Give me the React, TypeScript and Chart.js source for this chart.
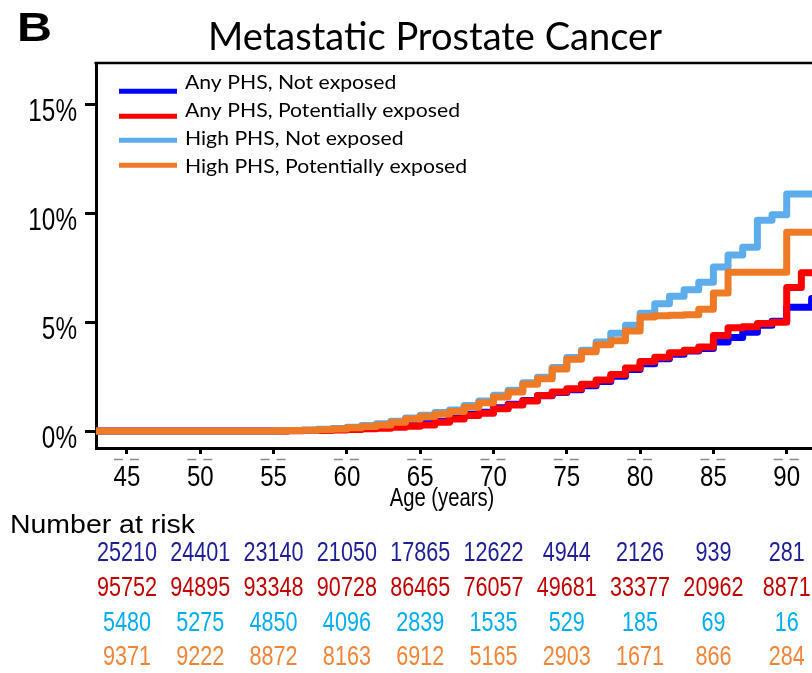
import React, { useEffect, useRef } from 'react';
import { Chart, registerables } from 'chart.js';

Chart.register(...registerables);

// ---------- data ----------
const ages = [
  43, 44, 45, 46, 47, 48, 49, 50, 51, 52, 53, 54, 55, 56, 57, 58, 59, 60, 61, 62, 63, 64, 65,
  66, 67, 68, 69, 70, 71, 72, 73, 74, 75, 76, 77, 78, 79, 80, 81, 82, 83, 84, 85, 86, 87, 88,
  89, 90, 91, 91.7, 95,
];

const anyNotExposed = [
  0, 0, 0, 0, 0, 0, 0, 0, 0, 0, 0, 0, 0.01, 0.02, 0.03, 0.05, 0.07, 0.1, 0.13, 0.17, 0.22, 0.27, 0.33,
  0.45, 0.6, 0.76, 0.86, 1.07, 1.23, 1.4, 1.62, 1.77, 1.9, 2.08, 2.28, 2.52, 2.83, 3.1, 3.33, 3.53, 3.68, 3.8, 4.1, 4.3, 4.55, 4.87,
  5.05, 5.7, 5.7, 6.1, 6.1,
];

const anyExposed = [
  0, 0, 0, 0, 0, 0, 0, 0, 0, 0, 0, 0, 0, 0.01, 0.02, 0.03, 0.05, 0.07, 0.1, 0.13, 0.17, 0.22, 0.28,
  0.4, 0.55, 0.72, 0.82, 1.03, 1.2, 1.38, 1.63, 1.8, 1.95, 2.15, 2.35, 2.6, 2.9, 3.2, 3.4, 3.6, 3.72, 3.87, 4.4, 4.75, 4.8, 4.95,
  5.0, 6.6, 7.28, 7.28, 7.28,
];

const highNotExposed = [
  0, 0, 0, 0, 0, 0, 0, 0, 0, 0, 0, 0, 0.02, 0.03, 0.05, 0.08, 0.12, 0.18, 0.25, 0.33, 0.45, 0.6, 0.73,
  0.85, 0.97, 1.17, 1.38, 1.65, 1.88, 2.22, 2.48, 2.92, 3.38, 3.72, 4.1, 4.5, 4.87, 5.42, 5.85, 6.2, 6.5, 6.85, 7.55, 8.1, 8.45, 9.7,
  9.95, 10.9, 10.9, 10.9, 10.9,
];

const highExposed = [
  0, 0, 0, 0, 0, 0, 0, 0, 0, 0, 0, 0, 0.01, 0.02, 0.04, 0.06, 0.09, 0.15, 0.21, 0.28, 0.4, 0.55, 0.67,
  0.78, 0.9, 1.1, 1.3, 1.57, 1.8, 2.15, 2.4, 2.85, 3.3, 3.65, 3.97, 4.15, 4.6, 5.25, 5.3, 5.33, 5.35, 5.6, 6.35, 7.3, 7.3, 7.3,
  7.3, 9.15, 9.15, 9.15, 9.15,
];

const seriesLabels = [
  'Any PHS, Not exposed',
  'Any PHS, Potentially exposed',
  'High PHS, Not exposed',
  'High PHS, Potentially exposed',
];
const seriesColors = ['#0000FF', '#FF0000', '#5DADEC', '#EE7A26'];

const xTicks = [45, 50, 55, 60, 65, 70, 75, 80, 85, 90];
const yTicks = [0, 5, 10, 15];

const riskAges = [45, 50, 55, 60, 65, 70, 75, 80, 85, 90];
const riskAnyNotExposed = [25210, 24401, 23140, 21050, 17865, 12622, 4944, 2126, 939, 281];
const riskAnyExposed = [95752, 94895, 93348, 90728, 86465, 76057, 49681, 33377, 20962, 8871];
const riskHighNotExposed = [5480, 5275, 4850, 4096, 2839, 1535, 529, 185, 69, 16];
const riskHighExposed = [9371, 9222, 8872, 8163, 6912, 5165, 2903, 1671, 866, 284];
const riskColors = ['#1E1E96', '#C00000', '#00AEEF', '#F0853A'];

const titleText = 'Metastatic Prostate Cancer';
const panelLetter = 'B';
const xTitle = 'Age (years)';
const riskTitle = 'Number at risk';

// ---------- styling ----------
const ARIAL = '"Liberation Sans", Arial, sans-serif';
const CAL = 'Lato, "Open Sans", sans-serif';
const NARROW_SCALE = 0.8;

const CANVAS_W = 866;
const CANVAS_H = 673;

function drawScaled(
  ctx: CanvasRenderingContext2D,
  text: string,
  x: number,
  y: number,
  font: string,
  color: string,
  sx: number,
  align: CanvasTextAlign = 'left'
) {
  ctx.save();
  ctx.font = font;
  ctx.fillStyle = color;
  ctx.textBaseline = 'alphabetic';
  ctx.textAlign = align;
  ctx.translate(x, y);
  ctx.scale(sx, 1);
  ctx.fillText(text, 0, 0);
  ctx.restore();
}

function widthOf(ctx: CanvasRenderingContext2D, text: string, font: string) {
  ctx.save();
  ctx.font = font;
  const w = ctx.measureText(text).width;
  ctx.restore();
  return w;
}

const overlayPlugin = {
  id: 'overlay',
  afterDraw(chart: any) {
    const ctx: CanvasRenderingContext2D = chart.ctx;
    const area = chart.chartArea;
    const xs = chart.scales.x;
    const ys = chart.scales.y;

    // top frame line
    ctx.save();
    ctx.strokeStyle = '#000';
    ctx.lineWidth = 2.5;
    ctx.beginPath();
    ctx.moveTo(area.left - 1.5, area.top);
    ctx.lineTo(area.right, area.top);
    ctx.stroke();
    ctx.restore();

    // panel letter and title
    const bFont = `bold 40px ${ARIAL}`;
    drawScaled(ctx, panelLetter, 17, 41, bFont, '#000', 35 / widthOf(ctx, panelLetter, bFont));
    const tFont = `39px ${CAL}`;
    drawScaled(ctx, titleText, 208, 50, tFont, '#000', 454 / widthOf(ctx, titleText, tFont));

    // legend
    const lineYs = [91.3, 116.3, 140.3, 165.3];
    const textYs = [89, 117.3, 145, 173.3];
    const lFont = `20px ${CAL}`;
    const legendScale = 275 / widthOf(ctx, seriesLabels[1], lFont);
    seriesLabels.forEach((lab, i) => {
      ctx.save();
      ctx.strokeStyle = seriesColors[i];
      ctx.lineWidth = 5;
      ctx.beginPath();
      ctx.moveTo(119, lineYs[i]);
      ctx.lineTo(177, lineYs[i]);
      ctx.stroke();
      ctx.restore();
      drawScaled(ctx, lab, 185, textYs[i], lFont, '#000', legendScale);
    });

    // y tick labels
    const yFont = `32px ${ARIAL}`;
    yTicks.forEach((t) => {
      const py = ys.getPixelForValue(t);
      drawScaled(ctx, `${t}%`, 77, py + 16.5, yFont, '#000', 0.76, 'right');
    });

    // x tick labels
    const xFont = `29px ${ARIAL}`;
    xTicks.forEach((t) => {
      const c = xs.getPixelForValue(t);
      drawScaled(ctx, String(t), c, 486, xFont, '#000', 0.83, 'center');
    });

    // ghost marks under the x axis
    ctx.save();
    ctx.strokeStyle = '#8a8a8a';
    ctx.lineWidth = 1.5;
    xTicks.forEach((t) => {
      const c = xs.getPixelForValue(t);
      ctx.beginPath();
      ctx.moveTo(c - 13, 459.5);
      ctx.lineTo(c - 4, 459.5);
      ctx.moveTo(c + 3, 459.5);
      ctx.lineTo(c + 12, 459.5);
      ctx.stroke();
    });
    ctx.restore();

    // x axis title
    drawScaled(ctx, xTitle, 442, 506, `25px ${ARIAL}`, '#000', 0.81, 'center');

    // number at risk
    const rtFont = `26px ${ARIAL}`;
    drawScaled(ctx, riskTitle, 10, 533, rtFont, '#000', 185 / widthOf(ctx, riskTitle, rtFont));
    const rows = [riskAnyNotExposed, riskAnyExposed, riskHighNotExposed, riskHighExposed];
    const rowYs = [561, 596, 631, 665];
    rows.forEach((row, r) => {
      row.forEach((v, i) => {
        const cx = xs.getPixelForValue(riskAges[i]);
        drawScaled(ctx, String(v), cx, rowYs[r], `27px ${ARIAL}`, riskColors[r], NARROW_SCALE, 'center');
      });
    });
  },
};

export default function App() {
  const ref = useRef<HTMLCanvasElement | null>(null);

  useEffect(() => {
    if (!ref.current) return;
    const makePts = (vals: number[]) => ages.map((a, i) => ({ x: a, y: vals[i] }));
    const all = [anyNotExposed, anyExposed, highNotExposed, highExposed];
    const chart = new Chart(ref.current, {
      type: 'line',
      data: {
        datasets: all.map((vals, i) => ({
          label: seriesLabels[i],
          data: makePts(vals),
          borderColor: seriesColors[i],
          backgroundColor: seriesColors[i],
          borderWidth: 7,
          stepped: true,
          pointRadius: 0,
          fill: false,
          borderCapStyle: 'round',
          borderJoinStyle: 'round',
          order: 4 - i,
        })),
      },
      options: {
        responsive: false,
        animation: false,
        devicePixelRatio: 1,
        layout: { padding: { top: 63, left: 0, right: 6, bottom: 0 } },
        plugins: {
          legend: { display: false },
          tooltip: { enabled: false },
          title: { display: false },
        },
        scales: {
          x: {
            type: 'linear',
            min: 42.886,
            max: 95,
            afterBuildTicks: (s: any) => {
              s.ticks = xTicks.map((v) => ({ value: v }));
            },
            afterFit: (s: any) => {
              s.height = CANVAS_H - 448;
            },
            border: { display: true, color: '#000', width: 3 },
            grid: {
              display: true,
              drawOnChartArea: false,
              drawTicks: true,
              tickLength: 6,
              tickWidth: 3,
              tickColor: '#000',
            },
            ticks: { display: false, autoSkip: false },
          },
          y: {
            type: 'linear',
            min: -0.78,
            max: 16.93,
            afterBuildTicks: (s: any) => {
              s.ticks = yTicks.map((v) => ({ value: v }));
            },
            afterFit: (s: any) => {
              s.width = 96;
            },
            border: { display: true, color: '#000', width: 3 },
            grid: {
              display: true,
              drawOnChartArea: false,
              drawTicks: true,
              tickLength: 11,
              tickWidth: 3,
              tickColor: '#000',
            },
            ticks: { display: false },
          },
        },
      },
      plugins: [overlayPlugin],
    } as any);
    return () => chart.destroy();
  }, []);

  return (
    <div
      style={{
        position: 'absolute',
        left: 0,
        top: 0,
        width: 812,
        height: 673,
        overflow: 'hidden',
        background: '#fff',
      }}
    >
      <canvas ref={ref} width={CANVAS_W} height={CANVAS_H} style={{ width: CANVAS_W, height: CANVAS_H, display: 'block' }} />
    </div>
  );
}
